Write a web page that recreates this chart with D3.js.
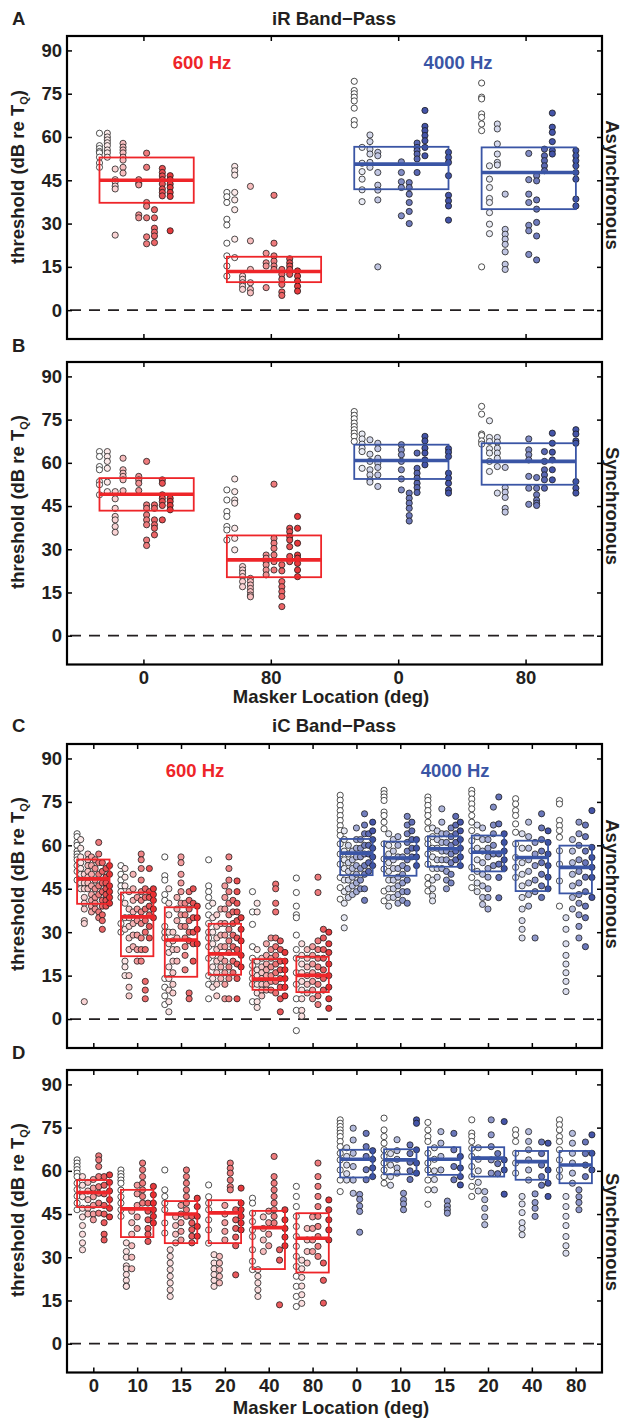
<!DOCTYPE html>
<html>
<head>
<meta charset="utf-8">
<script src="https://cdn.jsdelivr.net/npm/d3@7"></script>
<style>
  body { margin: 0; background: #fff; }
  svg { display: block; font-family: "Liberation Sans", Arial, Helvetica, sans-serif; font-weight: bold; }
</style>
</head>
<body>
<div id="chart"></div>
<script>
const W = 625, H = 1419;
const L = 67, R = 602; // plot frame x extent
const FS = 18.5;
const RED = "#e6393c", BLUE = "#4454a8";
const RED_BOX = "#ee2529", BLUE_BOX = "#3a55a5";
const INK = "#231f20";

const Y_TICKS = [0, 15, 30, 45, 60, 75, 90];
const LOC_AB = ["0", "80", "0", "80"];
const LOC_CD = ["0", "10", "15", "20", "40", "80", "0", "10", "15", "20", "40", "80"];
const FREQ_LABELS = ["600 Hz", "4000 Hz"];
// subject slots used in the iR panels (13 slots per group)
const SUBJ_600 = [0, 1, 2, 3, 5, 6, 7, 8, 9];
const SUBJ_4000 = [0, 1, 2, 3, 6, 7, 8, 9, 12];

// box stats: [q1, median, q3] in dB
const BOX_A = [[37.2, 45, 52.9], [9.7, 13.4, 18.5], [41.9, 50.6, 56.6], [35, 47.7, 56.4]];
const BOX_B = [[43.4, 49.1, 54.7], [20.3, 26.3, 34.8], [54.4, 60.8, 66.3], [52.4, 60.5, 66.8]];
const BOX_C = [[39.8, 48.4, 55.1], [21.7, 35.3, 43.7], [14.6, 27.3, 38.6], [15.3, 22.5, 32.9],
  [10.1, 13.8, 20.7], [9.3, 15.1, 21.5], [49.7, 57.3, 62.2], [49.5, 55.6, 61.3],
  [52.6, 58.8, 63.1], [51, 57.6, 63.4], [44.2, 55.8, 61.6], [43.4, 52.4, 59.9]];
const BOX_D = [[47.4, 52.5, 56.8], [37, 46.8, 53.4], [34.9, 45, 49.5], [34.9, 45.4, 49.8],
  [25.9, 40.3, 46.1], [24.7, 36.6, 45.3], [57.7, 64, 67.3], [58.8, 63.8, 67.5],
  [58.6, 64, 68.2], [58, 64.4, 68.2], [56.9, 63.2, 66.9], [55.7, 62, 66.9]];

// individual thresholds, one array per subject column
const PTS_A = [
  [[61.3,57,56,55,54.5,53,51,49.5],[61.3,60,59,58,57,55.5,54.5,53],[48.9,45.2,44.5,43,42,26],
   [57.8,56.5,55.5,54.5,53,52,49.5,47.5],[45.2,44,43.4,33,32],[54.4,49.5,37.3,36,32,25.4,23],
   [34.8,32,28.4,27,25.7,23.4],[49.1,47.7,46.5,45.2,43.7,42,40.8,39.6],[46.6,45.2,43.7,42.5,40.8,39.4,27.5]],
  [[40.8,39.3,37.3,31.5,29.5,23.2,18.8,15.3,11.8],[49.8,48.3,46.8,40.8,38.2,34.8,24.6,18.2],[11.8,10.7,9.5,8.3,7.2],
   [42.9,24,14.1,9.5,7.2,6],[19.7,16.4,15.3,7.8],[39.8,23.2,18.8,17,15.3,14.1],
   [14.1,12.4,10.7,8.9,6.3,5.1],[17.8,16.4,15.3,14.1,12.4],[13.6,11.8,10.1,8.3,6.6]],
  [[79.3,76.1,75,73.8,72.5,70,65.7,64.2],[56.4,50.9,48,45.4,41.7,37.6],[60.7,58.4,55.8,54.1,51.2,49.5],
   [54.7,53.5,47.7,43.3,41.6,38.2,15],[51.4,47.7,44.5,42.5,32.7],[44.2,42.5,40.2,37.3,34.2,30],
   [57.9,56.4,55.3,54.1,52.4,47.7],[69.2,63.7,62.2,60.5,58.7,56.4,53.5],[54.7,52.9,51.2,46.6,39.8,37.9,36.1,31.2]],
  [[78.7,73.8,73.2,68,66.8,64.5,62.2,15],[50,45.4,42.5,38.7,37.3,33.8,29.8,26.5],[64.5,62.8,57.6,54.1,51.2,50.3],
   [40.2,28,26.3,24.6,22.8,20.2,15.9,14.1],[54.3,45.2,40.2,37.3,29.4,27.5,19.3],[46.6,44.8,38.2,35,30.4,25.7,17.4],
   [55.8,53.5,51.8,50,48.3],[68.3,63.4,61.6,58.4,55.3,54.1],[55.3,53.5,51.8,50,47.7,45.4,38.5,36.1]]
];
const PTS_B = [
  [[63.9,62.2,58.7,57.6,53.5,52.4,48.9],[63.9,62.2,60.5,58.1,53.3,50],[50,47.5,44.2,41.4,40.2,37.9,35.9],
   [61.6,57.6,56.4,55.3,54.1,50.3],[55.3,54.1,52.9,50.4],[60.5,45.4,44.2,41.9,40.2,38.5,33.2,31.3],
   [45.4,44.2,40.2,38.5,37.3,35],[54.1,52.9,48.9,47.7,46.6,45.2,40.2],[47.7,46.6,45.2,43.7]],
  [[50.6,47.1,43.1,41.4,37.9,36.7,33.2],[54.4,50,47.1,46,37.3,33.8,29.8],[24,22.8,21.7,20.5,18.8,17],
   [19.9,18.8,17.6,16.4,15.3,14.1,13.5],[28,26.9,25.7,24.6,22.8,21.1],[52.6,33.8,32.1,30.3,28,25.7,22.8],
   [24.6,22.5,18.8,17,15.3,13.6,10.1],[37.3,36.1,34.4,33.2,30.9,27.5,25.7],[41.4,37.3,32.1,28,26.9,25.1,22.8,20.5]],
  [[77.8,76.5,75.3,73.8,72.6,71.5,70.3,69.2,67.4],[70,68.3,66.5,65.1,63.9,58.1],[68,63,60.5,57.6,55.8,54.1,53.3],
   [66.8,64.9,61.6,59.9,58.4,55.8,51.8],[66.3,64.5,62.8,60.5,57.6,54.4,50.6],[49.5,47.7,46,44.2,41.7,39.8],
   [63.4,58.1,56.4,54.7,52.9,51.4,49.7],[69.2,67.6,65.1,63.4,61,59.3],[64.9,63.7,62.2,56.4,54.7,52.9,50.6,49.5]],
  [[79.6,76.9,70,69.5,67.6,66.5],[74.6,68.8,67.4,64.9,63.4,60.5,57],[68.8,67.2,65.1,63.4,61.6,58.7,49.5],
   [58.4,51.4,49.8,48,44.2,42.9],[68.3,64.5,62.8,61,55.3,51.2,45.6],[54.9,51.2,48.9,47.1,46,45.2],
   [63.9,60.5,57.6,55.8,54.1,51.2],[70.3,66.8,63.7,61,57.6,54.1],[71.5,70,67.6,66.8,53.5,51.2,49.5]]
];
const PTS_C = [
  [[64,63,61,60,58,57,56,55,53,51,48],[62,59,56,54,52,50,47,45],[50,47,45,42,40,38,34,33,6],[57,55,53,51,49,47,45],
   [56,53,50,46,43,41,39,37],[55,52,48,45,42,40,38],[61,57,54,50,46,43,37,35],[54,51,47,44,41,39,36,34,31],
   [52,49,47,45,43,41,39],[53,50,46,44,42,40]],
  [[53,50,48,46,44,42,33,30],[52,49,46,40,35,31,20,18,15],[44,38,35,32,28,24,15,11,8],[50,45,41,37,33,29,25],
   [42,38,34,29,24,20],[57,55,52,48,44,41,37,33,28,24,20],[45,42,38,34,30,24,13,10,7],[52,44,42,39,36,32,28],
   [45,43,41,38,35]],
  [[56,49.5,48,43,41,32,30,28,14,11,8,5],[45,40,36,30,26,23,18,14,10,6,2.5],[30,27,24,20,16,12,9],[42,38,34,28,24,20],
   [56,54,50,47,44,40,36,32],[40,36,32,28,25,22,17],[44,41,38,34,30,27,9,7],[45,40,35,30,26,20],[39,35,31,26]],
  [[55,46,44,42,39,36,33,30,28,25,21,15,12,7],[40,35,30,26,22,18,14,11],[36,32,28,24,20,16,12,8],[38,33,29,25,21,18,14],
   [46,42,38,33,29,25,20,16,12,7],[56,52,48,44,40,36,31,27,23,18,14,7],[41,37,33,29,25,20,16],
   [47.7,44,40,37,34,28,24,19,14,7],[35,31,27,22,18]],
  [[44,37,32.7,25,21,18.5,16,14,12,6],[40,37,24,20,17,15,12,9,6,4],[21,18,16,14,12,10,8],[26,22,19,17,15,12,10],
   [28,24,21,18,15,13,10],[46.6,45,40,37,28,25,22,19,16,13,9],[27,24,20,17,14,11,7,2.5],[23,20,17,14,11,8]],
  [[48.7,43.7,39,36,35,29,24,21,16,12,7,3,-4],[26,22,19,16,13,10,7,3,1],[24,21,18,15,12,9],[25,22,19,16,13,10,7],
   [49,43.7,27,24,21,18,15,12,8,5],[31,28,24,21,17,14,10],[30,26,23,19,15,11,7,3.7]],
  [[77.3,75.6,73.8,72,70.3,68.6,66.8,65.1,63.4,60.5,57,53.5,48.9,45.4,41.4],[65,62,58,55,52,48,44,40,35,31.5],
   [60,57,54,51,48,45,42],[58,55,52,49,46,43],[66,62,59,56,53,50,47,44],[62,59,56,52,48,45],
   [70.9,67,64,60,57,53,50,45,41],[64,60,57,54,51],[68,65,62,59,56,53]],
  [[79,77.8,76.7,75.5,71.5,70.3,68,65.7,60.5,55.3,51.8,44.2,40.8],[64,60,57,54,51,48,45,42,39],[62,58,55,52,48,45,42],
   [63,60,56,52,49,46,43,40],[56,53,50,47,44,41],[70,67,64,61,58,55,52,48,44,40],[68,65,62,59,56],[62,59,56,53]],
  [[76.7,75.5,73.8,72,70.3,68,65.7,62.2,60.5,57,53.5,48.9,46.6,44.2],[66,63,59,56,52,48,45,42.5,40.8],
   [65,62,59,55,52,49],[72.6,68,64,61,58,55,52],[64,61,58,55,51,48,45],[66,63,60,57,54,50,47],
   [70,67,64,61,58,55],[68,65,62,59,56,53]],
  [[79,77.8,76,74.3,72.6,70.3,68,65.1,61.6,58.1,52.4,48.9,45.4],[67,63,59,55,51,47,44],[66,62,58,54,50,46,42,39.6],
   [62,59,56,52,49,45,42,38],[73.2,67,64,60,57,53],[76.7,67.4,57,53.5,48.9,41.9],[64,61,58,55,52]],
  [[76.1,74.3,72,70.3,67.4,64.5,60.5,55.8,52.4,48.9],[64,59,54,50,46,42,38,34,31,28],[68,63,59,55,51,47,43,39],
   [61,57,53,48,44,28],[70.9,66,62,58,54,50,46,42],[65,61,57,53,49,45]],
  [[75.5,74.3,68.6,66.8,65.1,62.8,58.1,53.5,47.7,39],[35,31,26,22,19,16,13,9.5],[62,58,54,50,46,42,38],
   [68,64,60,55,51,47,43,40,36,32,28],[67,63,58,54,49,44,39,35,25],[72,59.3,55.8,52.4,48.9,42]]
];
const PTS_D = [
  [[63.8,62.7,61.5,60.4,59.2,58,55.7,53.5,51.2,48.8,46.5],[58,55,51,47,44,41,38,35,32.6],[56,53,50,47,45],
   [57,54,51,48,45,43],[65.2,63.8,61.5,58,54.5,52.2,48.8,45.3],[58,55,52,48,45,42,38,36],[58.6,56,53,50,47,44]],
  [[60.3,59,58,56.8,55.7,53.3,51,48.8,46.5,44.2],[35,32,30,27,26,24,22,20,19.9],[46,42,38,34,30,26],
   [55,52,48,44,40],[62.7,60.4,58,55.7,53.4,51.1,48.8],[48.8,46,43,40,38,35.5],[54.6,51.7,48.8,46.5,44.2,41.9]],
  [[60.3,53.4,51.1,48.8,46.5,41.9,38.4],[32.6,30.3,28,25.7,23.4,21.1,18.7,16.4],[44,41,38,35],[48,45,42,39,36],
   [60.3,58,55.7,53.4,51.1,48.8,46.5,44.2],[44.2,41.9,39.6,37.3,35],[50.5,47.6,44.2,40.7,37.3]],
  [[55.1,51,48.8,46.5,43,39.5,34.9],[30.9,28,26,24,22,19.9],[30.3,28,25.7,23.4,21.1],[48,45,42,39,36],
   [62.7,60.9,59.2,56.8,54.5,53.4],[46.5,43,40,37,34,23.9],[54,48.8,46.5,44.2,41.9,39.5]],
  [[50.5,48.8,45.3,42.4,39.5,37.2,32.6,28.6,25.7],[25.7,23.4,21.1,18.7,16.4],[44,40,36,32],[46,42,38,34],
   [65,58,55.7,53.4,51.1,48.8,46.5,44.2,41.9],[32.6,29,13.5],[46.5,43,40,37,34]],
  [[54.6,51.1,47.6,44.2,40.7,37.2,33.8,30.3,26.8,23.4,19.9,16.4,12.9],[29,26,23,20,17,14],[40,36,32,28],
   [44,40,36,32],[62.7,58,54.6,51.1,47.6,44.2,40.7,37.2,33.8,30.3],[28,22,14.1],[49.9,46.5,43,39.5,36]],
  [[77.7,76.5,75.4,74.2,73.1,71.9,70.2,68.4,66.1,63.8,60.3,56.8,52.8],[68,65,62,59,56.8],
   [74.8,70.7,66.1,61.5,56.8,52.2],[51.8,50.1,47.8,45.9,38.7],[73,68.4,65,60.4,56.9],[67,64,61,58]],
  [[78.3,74.2,71.9,69.6,67.3,65,62.7,60.3,58,55.7],[66,62,58,55],[70.8,67,64,61,59.2],[52.2,50,48.5,46.5],
   [69,66,63,60,57],[77.7,76.5,67.3,62.7,59.2]],
  [[76.8,74.2,71.9,70.2,66.1,62.7,60.3,56.8,53.4,48.4],[68,64,60,57,53.4],[73.6,69.6,65,60.3],
   [49.5,47.8,46.5,45.3],[73,67.3,61.5,56.9],[65,61,58,55.1]],
  [[77.7,73.1,71.9,70.2,67.8,65,61.5,58,54.6,51.1],[68,64,60,56,53],[52.8,50,47,44,41.3],
   [77.7,72.5,68.4,63.8,59.2],[66,62.5,59],[77.1,63.8,60.3,51.9]],
  [[74.2,72.5,70.2,66.1,62.7,59.2],[51.1,48.5,45.5,42,40,37.8],[73.6,70.2,67.3,63.8,60.3,56.8],
   [52,49,47,44.2],[70,66,62,58,55],[69.6,60.3,55.7,51.1]],
  [[77.7,76,74.2,71.9,70.2,67.3,63.8,60.3,58],[51.1,47.6,44.2,41,37.2,34,31.4],[73,69.6,66.1,62.7,59.2,55.7],
   [53.4,51,49,46.5],[70,66,62,58],[72.5,66.1,60.3]]
];

const PANELS = [
  { id: "A", top: 36, bottom: 339, box: BOX_A, pts: PTS_A, subj: [SUBJ_600, SUBJ_600, SUBJ_4000, SUBJ_4000],
    title: "iR Band\u2212Pass", side: "Asynchronous", sideY: 185, yLabY: 177, freqX: [1.46, 3.47], freqY: 69, labY: 25 },
  { id: "B", top: 362, bottom: 664.5, box: BOX_B, pts: PTS_B, subj: [SUBJ_600, SUBJ_600, SUBJ_4000, SUBJ_4000],
    side: "Synchronous", sideY: 506, yLabY: 502, labY: 352, ticks: LOC_AB, xTitleY: 703 },
  { id: "C", top: 744, bottom: 1048, box: BOX_C, pts: PTS_C,
    title: "iC Band\u2212Pass", side: "Asynchronous", sideY: 884, yLabY: 884, freqX: [3.32, 9.25], freqY: 777, labY: 732 },
  { id: "D", top: 1070, bottom: 1372.5, box: BOX_D, pts: PTS_D,
    side: "Synchronous", sideY: 1232, yLabY: 1210, labY: 1059, ticks: LOC_CD, xTitleY: 1414 }
];

const svg = d3.select("#chart").append("svg")
  .attr("width", W).attr("height", H)
  .attr("viewBox", [0, 0, W, H]);
svg.append("rect").attr("width", W).attr("height", H).attr("fill", "#fff");

const HALF = 0.37;

function styleAxis(g) {
  g.select(".domain").remove();
  g.attr("font-family", null).attr("font-size", FS);
  g.selectAll("line").attr("stroke", "#000").attr("stroke-width", 1.5);
  g.selectAll("text").attr("fill", INK);
}

function drawPanel(p) {
  const n = p.box.length;
  const half = n / 2;
  const x = d3.scaleLinear().domain([0.4, n + 0.6]).range([L, R]);
  const y = d3.scaleLinear().domain([-10, 95]).range([p.bottom, p.top]);
  const g = svg.append("g");

  // zero reference
  g.append("line")
    .attr("x1", L + 3).attr("x2", R).attr("y1", y(0)).attr("y2", y(0))
    .attr("stroke", INK).attr("stroke-width", 1.8).attr("stroke-dasharray", "11,8");

  // subject points
  p.pts.forEach((cols, gi) => {
    const hue = gi < half ? RED : BLUE;
    const slots = p.subj ? p.subj[gi] : d3.range(cols.length);
    const maxK = p.subj ? 12 : cols.length - 1;
    const shift = p.subj ? 0.025 : 0;
    const off = d3.scaleLinear().domain([0, maxK]).range([-HALF + shift, HALF + shift]);
    const shade = d3.scaleLinear().domain([0, p.subj ? 9 : maxK]).range(["#ffffff", hue])
      .interpolate(d3.interpolateRgb).clamp(true);
    cols.forEach((vals, ci) => {
      const k = slots[ci];
      g.append("g").selectAll("circle")
        .data(vals)
        .join("circle")
        .attr("cx", x(gi + 1 + off(k)))
        .attr("cy", d => y(d))
        .attr("r", 3.1)
        .attr("fill", shade(k))
        .attr("stroke", "#151515")
        .attr("stroke-width", 0.75);
    });
  });

  // group boxes
  p.box.forEach((b, gi) => {
    const c = gi < half ? RED_BOX : BLUE_BOX;
    const shift = p.subj ? 0.025 : 0;
    const x0 = x(gi + 1 - HALF + shift), x1 = x(gi + 1 + HALF + shift);
    g.append("rect")
      .attr("x", x0).attr("y", y(b[2]))
      .attr("width", x1 - x0).attr("height", y(b[0]) - y(b[2]))
      .attr("fill", "none").attr("stroke", c).attr("stroke-width", 1.8);
    g.append("line")
      .attr("x1", x0).attr("x2", x1).attr("y1", y(b[1])).attr("y2", y(b[1]))
      .attr("stroke", c).attr("stroke-width", 3.6);
  });

  // axes (inward ticks, MATLAB style)
  const groupTicks = d3.range(1, n + 1);
  g.append("g").attr("transform", `translate(${L},0)`)
    .call(d3.axisLeft(y).tickValues(Y_TICKS).tickSizeInner(-5).tickSizeOuter(0).tickPadding(5))
    .call(styleAxis);
  g.append("g").attr("transform", `translate(${R},0)`)
    .call(d3.axisRight(y).tickValues(Y_TICKS).tickSizeInner(-5).tickSizeOuter(0).tickFormat(""))
    .call(styleAxis);
  g.append("g").attr("transform", `translate(0,${p.top})`)
    .call(d3.axisTop(x).tickValues(groupTicks).tickSizeInner(-5).tickSizeOuter(0).tickFormat(""))
    .call(styleAxis);
  g.append("g").attr("transform", `translate(0,${p.bottom})`)
    .call(d3.axisBottom(x).tickValues(groupTicks).tickSizeInner(-5).tickSizeOuter(0).tickPadding(6)
      .tickFormat((d, i) => p.ticks ? p.ticks[i] : ""))
    .call(styleAxis);

  // frame
  g.append("rect")
    .attr("x", L).attr("y", p.top).attr("width", R - L).attr("height", p.bottom - p.top)
    .attr("fill", "none").attr("stroke", "#000").attr("stroke-width", 2.2);

  // labels
  g.append("text").attr("x", 12).attr("y", p.labY).attr("font-size", FS).attr("fill", INK).text(p.id);
  if (p.title) {
    g.append("text").attr("x", 334).attr("y", p.labY).attr("text-anchor", "middle")
      .attr("font-size", FS).attr("fill", INK).text(p.title);
  }
  if (p.freqX) {
    FREQ_LABELS.forEach((t, i) => {
      g.append("text").attr("x", x(p.freqX[i])).attr("y", p.freqY).attr("text-anchor", "middle")
        .attr("font-size", FS).attr("fill", i === 0 ? RED_BOX : BLUE_BOX).text(t);
    });
  }
  const yl = g.append("text")
    .attr("transform", `translate(23.5,${p.yLabY}) rotate(-90)`)
    .attr("text-anchor", "middle").attr("font-size", FS).attr("fill", INK);
  yl.append("tspan").text("threshold (dB re T");
  yl.append("tspan").attr("font-size", 11).attr("dy", 4).text("Q");
  yl.append("tspan").attr("dy", -4).text(")");

  g.append("text")
    .attr("transform", `translate(606,${p.sideY}) rotate(90)`)
    .attr("text-anchor", "middle").attr("font-size", FS).attr("fill", INK).text(p.side);

  if (p.xTitleY) {
    g.append("text").attr("x", 331).attr("y", p.xTitleY).attr("text-anchor", "middle")
      .attr("font-size", FS).attr("fill", INK).text("Masker Location (deg)");
  }
}

PANELS.forEach(drawPanel);
</script>
</body>
</html>
